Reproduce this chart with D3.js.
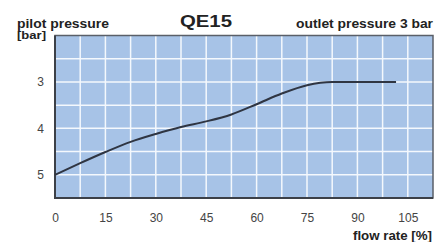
<!DOCTYPE html>
<html>
<head>
<meta charset="utf-8">
<script src="https://cdnjs.cloudflare.com/ajax/libs/d3/7.8.5/d3.min.js"></script>
<style>
  body { margin: 0; background: #fff; }
  text { font-family: "Liberation Sans", Arial, sans-serif; }
</style>
</head>
<body>
<div class="chart"></div>
<script>
// flow rate [%] and pilot pressure [bar]
var flowRate = [0, 7.5, 15, 22.5, 30, 37.5, 45, 52.5, 60, 67.5, 75, 82.5, 90, 101.5];
var pilotPressure = [5.0, 4.75, 4.51, 4.29, 4.12, 3.97, 3.85, 3.70, 3.48, 3.25, 3.07, 3.0, 3.0, 3.0];
var xTicks = [0, 15, 30, 45, 60, 75, 90, 105];
var yTicks = [3, 4, 5];

var svgWidth = 446;
var svgHeight = 242;
var margin = { top: 35.5, right: 13, bottom: 44, left: 55 };
var width = svgWidth - margin.left - margin.right;
var height = svgHeight - margin.top - margin.bottom;

var svg = d3.select(".chart")
  .append("svg")
  .attr("width", svgWidth)
  .attr("height", svgHeight);

var chartGroup = svg.append("g")
  .attr("transform", `translate(${margin.left}, ${margin.top})`);

// scales
var xScale = d3.scaleLinear()
  .domain([0, 112.5])
  .range([0, width]);

var yScale = d3.scaleLinear()
  .domain([2, 5.5])
  .range([0, height]);

// background
chartGroup.append("rect")
  .attr("width", width)
  .attr("height", height)
  .attr("fill", "#a7c3e7");

// grid
var xGrid = d3.range(7.5, 112.5, 7.5);
var yGrid = d3.range(2.5, 5.5, 0.5);

chartGroup.selectAll(".vgrid")
  .data(xGrid)
  .enter()
  .append("line")
  .attr("x1", d => xScale(d))
  .attr("x2", d => xScale(d))
  .attr("y1", 0)
  .attr("y2", height)
  .attr("stroke", "#f4f8fd")
  .attr("stroke-width", 1.5);

chartGroup.selectAll(".hgrid")
  .data(yGrid)
  .enter()
  .append("line")
  .attr("x1", 0)
  .attr("x2", width)
  .attr("y1", d => yScale(d))
  .attr("y2", d => yScale(d))
  .attr("stroke", "#f4f8fd")
  .attr("stroke-width", 1.5);

// frame
chartGroup.append("rect")
  .attr("width", width)
  .attr("height", height)
  .attr("fill", "none")
  .attr("stroke", "#5a5f68")
  .attr("stroke-width", 1.5);

chartGroup.append("path")
  .attr("d", `M0,0V${height}H${width}`)
  .attr("fill", "none")
  .attr("stroke", "#3c4048")
  .attr("stroke-width", 2);

// curve
var line = d3.line()
  .x((d, i) => xScale(flowRate[i]))
  .y(d => yScale(d))
  .curve(d3.curveMonotoneX);

chartGroup.append("path")
  .datum(pilotPressure)
  .attr("d", line)
  .attr("fill", "none")
  .attr("stroke", "#2f3542")
  .attr("stroke-width", 2);

// axes
var xAxis = d3.axisBottom(xScale).tickValues(xTicks).tickSize(0).tickPadding(15);
var yAxis = d3.axisLeft(yScale).tickValues(yTicks).tickFormat(d3.format("d")).tickSize(0).tickPadding(11);

var xg = chartGroup.append("g")
  .attr("transform", `translate(0, ${height})`)
  .call(xAxis);
var yg = chartGroup.append("g")
  .call(yAxis);

[xg, yg].forEach(function(g) {
  g.select(".domain").remove();
  g.selectAll("text")
    .attr("fill", "#444")
    .style("font-size", "12px")
    .style("font-family", "'Liberation Sans', Arial, sans-serif");
});

// labels
function label(x, y, txt, size, len, anchor) {
  svg.append("text")
    .attr("x", x)
    .attr("y", y)
    .attr("text-anchor", anchor || "start")
    .attr("textLength", len)
    .attr("lengthAdjust", "spacingAndGlyphs")
    .attr("fill", "#222")
    .style("font-weight", "bold")
    .style("font-size", size + "px")
    .text(txt);
}

label(17, 27.5, "pilot pressure", 12, 92);
label(17, 39, "[bar]", 11.5, 29);
label(206, 27, "QE15", 17, 52, "middle");
label(433, 27.5, "outlet pressure 3 bar", 12, 137, "end");
label(432, 240, "flow rate [%]", 12, 79, "end");
</script>
</body>
</html>
